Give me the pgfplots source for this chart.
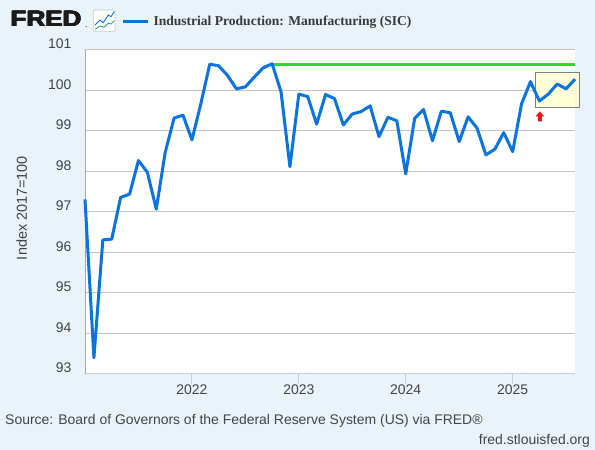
\documentclass[border=0pt]{standalone}
\usepackage{fontspec}
\setmainfont{Liberation Sans}
\newfontfamily\serifb{Liberation Serif}
\usepackage{pgfplots}
\pgfplotsset{compat=1.18}
\definecolor{bg}{HTML}{EAF2FA}
\definecolor{fredblue}{HTML}{0A73DD}
\definecolor{fredgreen}{HTML}{2CD82C}
\definecolor{gridc}{HTML}{C4C4C4}
\definecolor{txt}{HTML}{444444}
\definecolor{tickc}{HTML}{C3D0E2}
\definecolor{leftc}{HTML}{A8A8A8}
\definecolor{boxfill}{HTML}{FFFFCC}
\definecolor{boxdraw}{HTML}{808080}
\definecolor{arrowred}{HTML}{E8141C}
\definecolor{icongreen}{HTML}{2AA87A}
\definecolor{logoc}{HTML}{1A1A1A}

\pgfplotstableread{
m v
0 97.31
1 93.40
2 96.31
3 96.33
4 97.36
5 97.44
6 98.27
7 97.98
8 97.07
9 98.47
10 99.32
11 99.39
12 98.78
13 99.67
14 100.65
15 100.61
16 100.37
17 100.04
18 100.09
19 100.33
20 100.56
21 100.66
22 99.97
23 98.12
24 99.91
25 99.85
26 99.17
27 99.90
28 99.80
29 99.15
30 99.42
31 99.48
32 99.62
33 98.86
34 99.34
35 99.25
36 97.94
37 99.31
38 99.53
39 98.76
40 99.49
41 99.45
42 98.74
43 99.35
44 99.07
45 98.41
46 98.55
47 98.96
48 98.49
49 99.67
50 100.22
51 99.74
52 99.91
53 100.16
54 100.04
55 100.28
}\ipdata

\newcommand{\fredlogo}{\scalebox{1.17}[1]{\fontsize{22.3}{22.3}\selectfont\bfseries FRED}}

\begin{document}
\begin{tikzpicture}[x=1bp,y=1bp]
\useasboundingbox (0,0) rectangle (595,450);
\fill[bg] (0,0) rectangle (595,450);

% header: FRED logo (emboldened by overlay), icon, legend
\foreach \dx/\dy in {0/0, 0.5/0, 1/0, 0/0.4, 0.5/0.4, 1/0.4} {
  \node[anchor=base west, inner sep=0pt, text=logoc] at (10+\dx,423.1+\dy) {\fredlogo};
}
\fill[logoc] (86.2,423.3) circle (0.6);
\filldraw[fill=white, draw={rgb,255:red,200;green,200;blue,200}, rounded corners=1.5bp, line width=0.6bp]
  (93.3,418.3) rectangle (115,440);
\draw[fredblue, line width=0.9bp, line join=round]
  (95,425) -- (100,430) -- (103.3,427.3) -- (108.3,435) -- (111,433.3) -- (114.3,438.3);
\draw[icongreen, line width=0.9bp, line join=round]
  (95,420.7) -- (100,424) -- (104,422.7) -- (108.3,426.7) -- (111,426) -- (114.3,429.3);
\draw[fredblue, line width=3bp] (123.3,428.3) -- (147.7,428.3);
\node[anchor=base west, inner sep=0pt, text={rgb,255:red,58;green,58;blue,58}] at (153.3,424)
  {\serifb\fontsize{13.6}{13.6}\selectfont\bfseries Industrial Production: Manufacturing (SIC)};

% y label
\node[rotate=90, text=txt, inner sep=0pt] at (21.7,242)
  {\fontsize{14.5}{14.5}\selectfont Index 2017=100};

% footer
\node[anchor=base west, inner sep=0pt, text=txt] at (5,25)
  {\fontsize{14}{14}\selectfont Source: Board of Governors of the Federal Reserve System (US) via FRED®};
\node[anchor=base east, inner sep=0pt, text=txt] at (590,5)
  {\fontsize{14}{14}\selectfont fred.stlouisfed.org};

\begin{axis}[
  at={(85bp,76bp)}, anchor=south west,
  scale only axis, width=490bp, height=324bp,
  xmin=0, xmax=55, ymin=93, ymax=101,
  xtick={12,24,36,48}, xticklabels={2022,2023,2024,2025},
  ytick={93,94,...,101},
  ymajorgrids, grid style={gridc, line width=1bp},
  axis background/.style={fill=white},
  axis lines*=left,
  x axis line style={-, draw=tickc, line width=1bp},
  y axis line style={-, draw=leftc, line width=1bp},
  tick align=outside, major tick length=10bp,
  xtick style={draw=tickc, line width=1bp},
  ytick style={draw=none},
  ticklabel style={font=\fontsize{14}{14}\selectfont, text=txt},
  /pgf/number format/assume math mode=true,
  yticklabel style={yshift=6bp},
  xticklabel style={yshift=3bp},
  clip=false,
]
\fill[boxfill, fill opacity=0.75] (axis cs:50.55,99.59) rectangle (axis cs:55.48,100.45);
\draw[boxdraw, line width=1bp] (axis cs:50.55,99.59) rectangle (axis cs:55.48,100.45);
\addplot[fredgreen, line width=3bp, no marks, forget plot] coordinates {(21,100.65) (55,100.65)};
\addplot[fredblue, line width=3bp, no marks, line join=round] table[x=m, y=v] {\ipdata};
\fill[arrowred, shift={(axis cs:51.05,99.24)}]
  (-2bp,0bp) -- (2bp,0bp) -- (2bp,5bp) -- (4.2bp,5bp) -- (0bp,10bp) -- (-4.2bp,5bp) -- (-2bp,5bp) -- cycle;
\end{axis}
\end{tikzpicture}
\end{document}
